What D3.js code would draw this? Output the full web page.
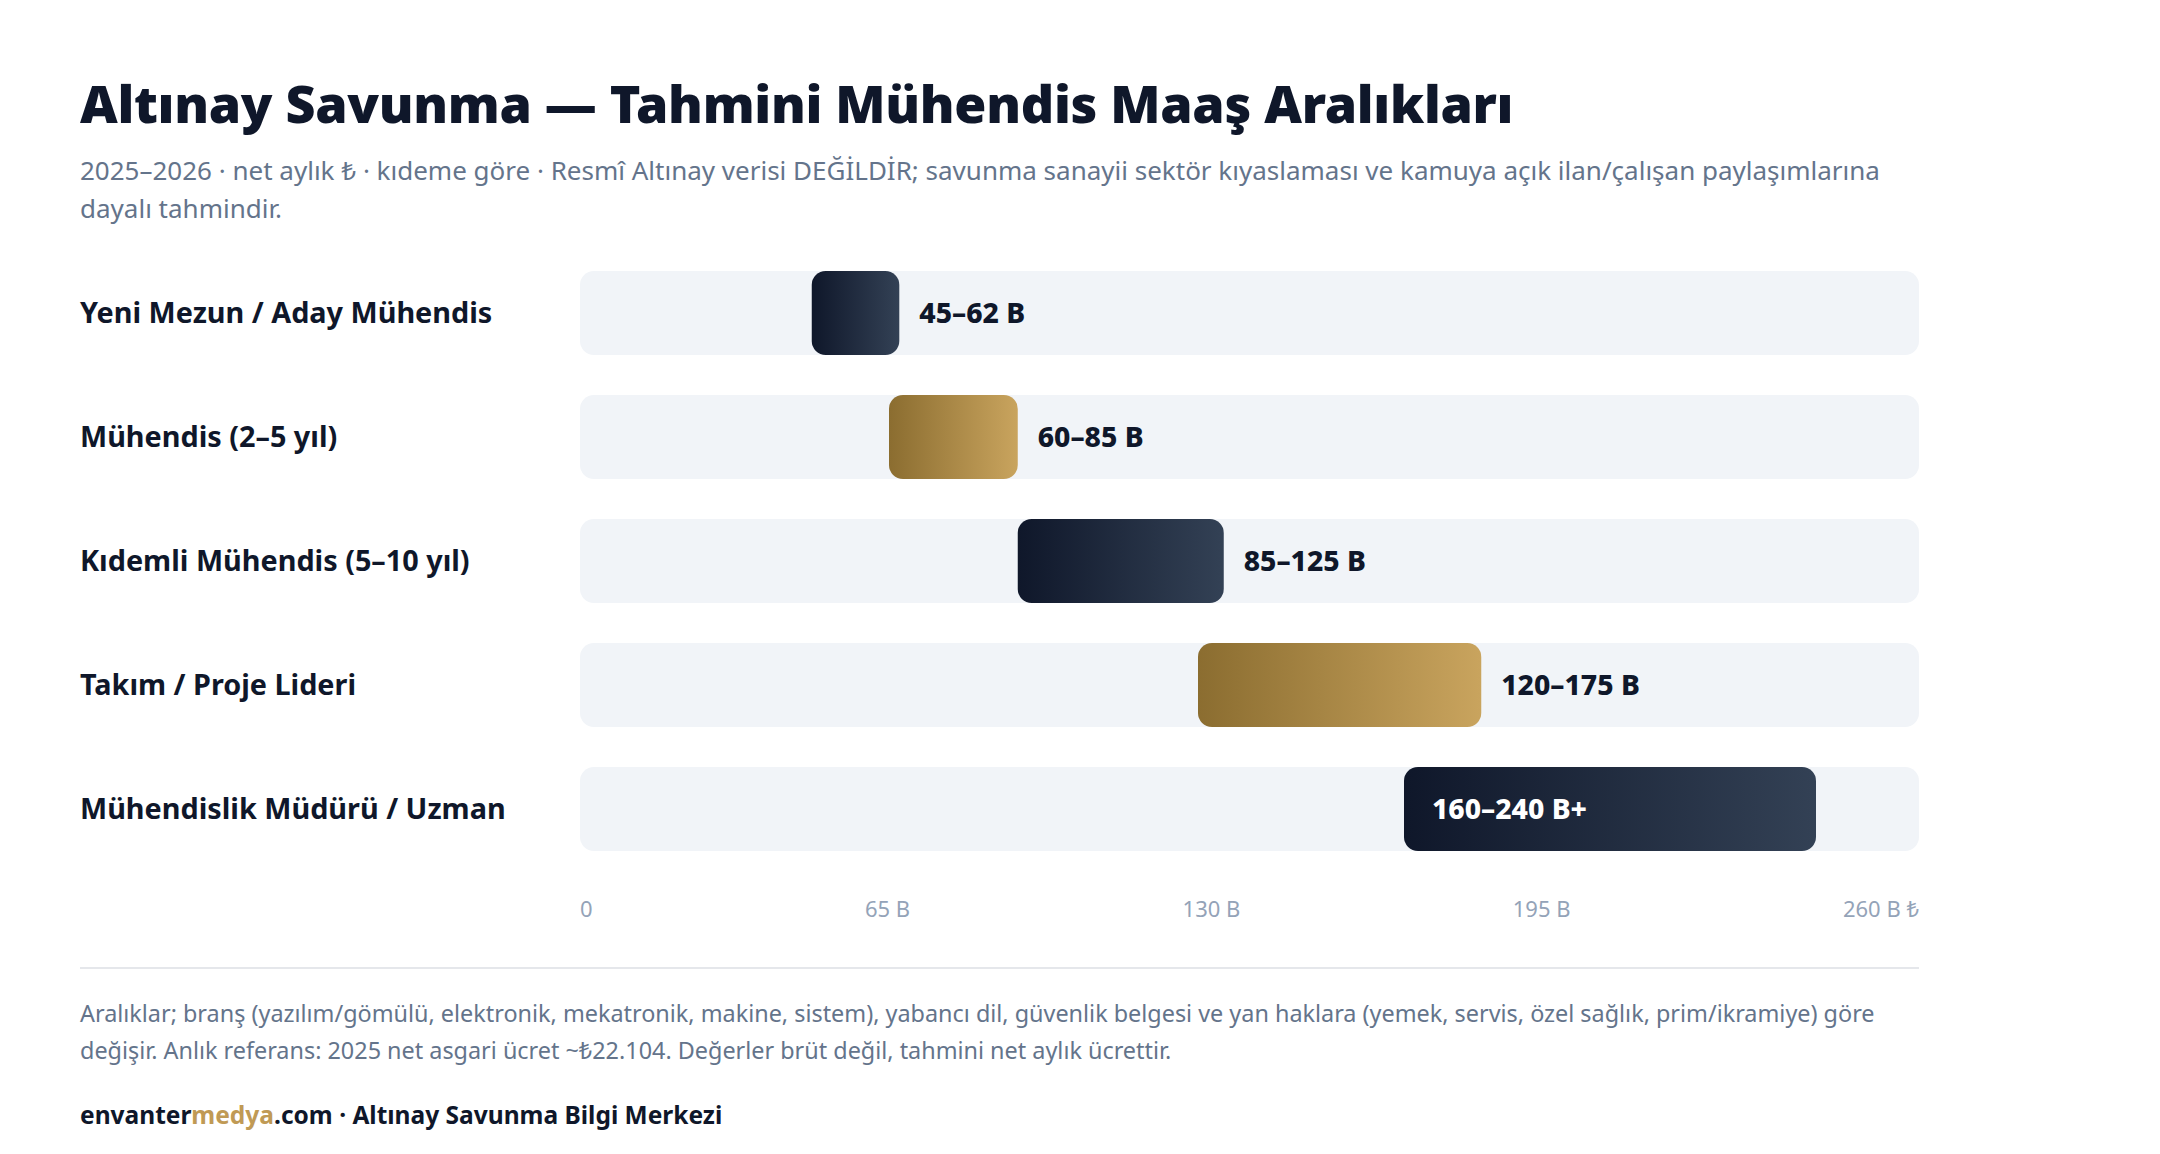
<!DOCTYPE html>
<html><head><meta charset="utf-8">
<script src="https://cdn.jsdelivr.net/npm/d3@7"></script>
<style>
html,body{margin:0;padding:0;background:#fff;}
svg{display:block;font-family:"Noto Sans","Open Sans",sans-serif;}
</style></head>
<body>
<svg id="chart" width="2160" height="1154"></svg>
<script>
const titleText = "Altınay Savunma — Tahmini Mühendis Maaş Aralıkları";
const subtitleText = "2025–2026 · net aylık ₺ · kıdeme göre · Resmî Altınay verisi DEĞİLDİR; savunma sanayii sektör kıyaslaması ve kamuya açık ilan/çalışan paylaşımlarına dayalı tahmindir.";
const categories = ["Yeni Mezun / Aday Mühendis","Mühendis (2–5 yıl)","Kıdemli Mühendis (5–10 yıl)","Takım / Proje Lideri","Mühendislik Müdürü / Uzman"];
const lowValues = [45, 60, 85, 120, 160];
const highValues = [62, 85, 125, 175, 240];
const valueLabels = ["45–62 B","60–85 B","85–125 B","120–175 B","160–240 B+"];
const tickValues = [0, 65, 130, 195, 260];
const tickLabels = ["0","65 B","130 B","195 B","260 B ₺"];
const footnoteText = "Aralıklar; branş (yazılım/gömülü, elektronik, mekatronik, makine, sistem), yabancı dil, güvenlik belgesi ve yan haklara (yemek, servis, özel sağlık, prim/ikramiye) göre değişir. Anlık referans: 2025 net asgari ücret ~₺22.104. Değerler brüt değil, tahmini net aylık ücrettir.";

const svg = d3.select("#chart");
const left = 80, contentW = 1840;
const trackX0 = 580, trackX1 = 1919;

const defs = svg.append("defs");
function grad(id, c0, c1){
  const g = defs.append("linearGradient").attr("id", id).attr("x1","0%").attr("x2","100%").attr("y1","0%").attr("y2","0%");
  g.append("stop").attr("offset","0%").attr("stop-color",c0);
  g.append("stop").attr("offset","100%").attr("stop-color",c1);
}
grad("gDark", "#0f172a", "#334155");
grad("gGold", "#8b6d30", "#c9a45e");

function wrap(sel, text, width, x, y, lh){
  const words = text.split(" ");
  let line = [], lineNo = 0;
  let tspan = sel.append("tspan").attr("x", x).attr("y", y);
  for (const w of words){
    line.push(w);
    tspan.text(line.join(" "));
    if (tspan.node().getComputedTextLength() > width && line.length > 1){
      line.pop();
      tspan.text(line.join(" "));
      line = [w];
      lineNo++;
      tspan = sel.append("tspan").attr("x", x).attr("y", y + lineNo*lh).text(w);
    }
  }
}

svg.append("text").attr("x", left).attr("y", 123)
  .attr("font-size", 52).attr("font-weight", 900).attr("fill", "#0f172a")
  .attr("letter-spacing", -0.3)
  .text(titleText);

wrap(svg.append("text").attr("font-size", 26).attr("fill", "#64748b"),
  subtitleText, contentW, left, 180, 38);

const x = d3.scaleLinear().domain([0, 260]).range([trackX0, trackX1]);
const y = d3.scaleBand().domain(categories).range([271, 851]).paddingInner(0.3226).paddingOuter(0);
const bh = y.bandwidth();

const rows = svg.append("g").selectAll("g").data(categories).join("g")
  .attr("transform", d => `translate(0,${y(d)})`);

rows.append("text").attr("x", left).attr("y", bh/2).attr("dy", "0.36em")
  .attr("font-size", 28.8).attr("font-weight", 700).attr("fill", "#0f172a")
  .text(d => d);

rows.append("rect").attr("x", x(0)).attr("width", x(260) - x(0)).attr("height", bh)
  .attr("rx", 14).attr("fill", "#f1f4f8");

rows.append("rect").attr("x", (d,i) => x(lowValues[i]))
  .attr("width", (d,i) => x(highValues[i]) - x(lowValues[i])).attr("height", bh)
  .attr("rx", 14).attr("fill", (d,i) => i % 2 === 0 ? "url(#gDark)" : "url(#gGold)");

rows.append("text").attr("y", bh/2).attr("dy", "0.36em")
  .attr("font-size", 28.3).attr("font-weight", 800)
  .text((d,i) => valueLabels[i])
  .each(function(d,i){
    const w = this.getComputedTextLength();
    const end = x(highValues[i]);
    if (end + 20 + w > trackX1) {
      d3.select(this).attr("x", x(lowValues[i]) + 28).attr("fill", "#ffffff");
    } else {
      d3.select(this).attr("x", end + 20).attr("fill", "#0f172a");
    }
  });

// axis labels, spread between track ends
const tickG = svg.append("g");
const tks = tickG.selectAll("text").data(tickValues).join("text")
  .attr("y", 917).attr("font-size", 22).attr("fill", "#94a3b8")
  .text((d,i) => tickLabels[i]);
const widths = [];
tks.each(function(){ widths.push(this.getComputedTextLength()); });
const totalW = d3.sum(widths);
const gap = (x(260) - x(0) - totalW) / (tickValues.length - 1);
let cx = x(0);
tks.each(function(d,i){ d3.select(this).attr("x", cx); cx += widths[i] + gap; });

svg.append("line").attr("x1", left).attr("x2", trackX1).attr("y1", 968).attr("y2", 968)
  .attr("stroke", "#e5e7eb").attr("stroke-width", 2);

wrap(svg.append("text").attr("font-size", 23.4).attr("fill", "#64748b"),
  footnoteText, contentW, left, 1022, 37);

const brand = svg.append("text").attr("x", left).attr("y", 1124)
  .attr("font-size", 24.5).attr("font-weight", 700).attr("fill", "#0f172a");
brand.append("tspan").text("envanter");
brand.append("tspan").attr("fill", "#c09a55").text("medya");
brand.append("tspan").text(".com · Altınay Savunma Bilgi Merkezi");
</script>
</body></html>
